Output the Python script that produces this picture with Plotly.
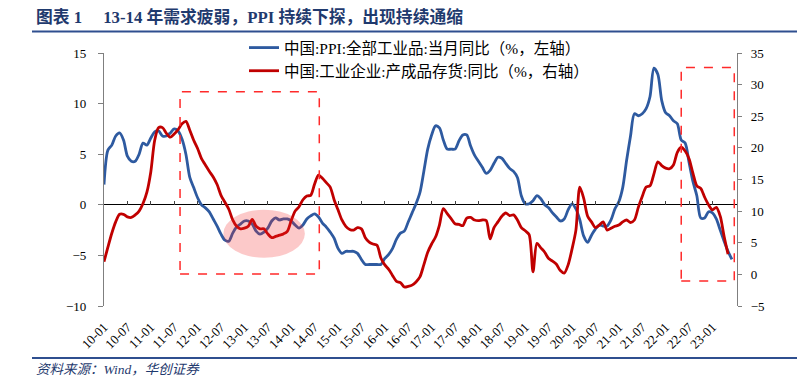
import plotly.graph_objects as go

# ---- data ----
months = [f"{y % 100:02d}-{m:02d}" for y in range(2010, 2024) for m in range(1, 13)][:162]
tick_labels = months[::6]

ppi_yoy = [
    2.0, 5.4, 5.9, 6.8, 7.1, 6.4, 4.8, 4.3, 4.3, 5.0, 6.1, 5.9,          # 2010
    6.6, 7.2, 7.3, 6.8, 6.8, 7.1, 7.5, 7.3, 6.5, 5.0, 2.7, 1.7,          # 2011
    0.7, 0.0, -0.3, -0.7, -1.4, -2.1, -2.9, -3.5, -3.6, -2.8, -2.2, -1.9,  # 2012
    -1.6, -1.6, -1.9, -2.6, -2.9, -2.7, -2.3, -1.6, -1.3, -1.5, -1.4, -1.4,  # 2013
    -1.6, -2.0, -2.3, -2.0, -1.4, -1.1, -0.9, -1.2, -1.8, -2.2, -2.7, -3.3,  # 2014
    -4.3, -4.8, -4.6, -4.6, -4.6, -4.8, -5.4, -5.9, -5.9, -5.9, -5.9, -5.9,  # 2015
    -5.3, -4.9, -4.3, -3.4, -2.8, -2.6, -1.7, -0.8, 0.1, 1.2, 3.3, 5.5,    # 2016
    6.9, 7.8, 7.6, 6.4, 5.5, 5.5, 5.5, 6.3, 6.9, 6.9, 5.8, 4.9,          # 2017
    4.3, 3.7, 3.1, 3.4, 4.1, 4.7, 4.6, 4.1, 3.6, 3.3, 2.7, 0.9,          # 2018
    0.1, 0.1, 0.4, 0.9, 0.6, 0.0, -0.3, -0.8, -1.2, -1.6, -1.4, -0.5,     # 2019
    0.1, -0.4, -1.5, -3.1, -3.7, -3.0, -2.4, -2.0, -2.1, -2.1, -1.5, -0.4,  # 2020
    0.3, 1.7, 4.4, 6.8, 9.0, 8.8, 9.0, 9.5, 10.7, 13.5, 12.9, 10.3,      # 2021
    9.1, 8.8, 8.3, 8.0, 6.4, 6.1, 4.2, 2.3, 0.9, -1.3, -1.3, -0.7,       # 2022
    -0.8, -1.4, -2.5, -3.6, -4.6, -5.4,                                # 2023
]

inventory_yoy = [
    2.0, 4.3, 6.5, 8.3, 9.5, 9.5, 9.1, 9.0, 9.4, 10.0, 11.2, 13.0,       # 2010
    16.2, 21.2, 23.2, 23.2, 22.3, 21.7, 22.2, 22.9, 23.8, 24.2, 22.8, 21.2,  # 2011
    19.9, 18.3, 17.3, 16.3, 15.4, 14.2, 12.5, 11.4, 10.3, 8.6, 7.6, 7.2,  # 2012
    7.3, 7.6, 8.7, 7.6, 7.2, 7.2, 6.4, 5.8, 6.0, 6.2, 6.4, 6.8,          # 2013
    8.5, 10.0, 10.7, 11.8, 12.4, 12.5, 14.3, 15.7, 15.2, 14.5, 13.8, 11.8,  # 2014
    10.2, 8.6, 7.6, 7.1, 7.0, 7.4, 7.2, 5.8, 5.1, 4.8, 4.6, 2.6,         # 2015
    1.5, 0.8, -0.2, -1.1, -1.3, -2.0, -1.9, -1.7, -1.2, -0.4, 1.5, 3.5,   # 2016
    4.8, 5.9, 7.8, 10.4, 9.6, 8.8, 8.0, 7.9, 7.7, 8.9, 9.0, 8.6,         # 2017
    8.5, 8.6, 8.5, 5.6, 7.4, 8.3, 9.2, 9.7, 9.3, 9.4, 8.6, 7.4,          # 2018
    6.9, 6.3, 0.4, 4.9, 4.2, 3.5, 2.5, 2.1, 1.6, 0.6, 0.2, 1.5,          # 2019
    4.0, 7.0, 13.8, 12.0, 9.2, 8.3, 7.4, 7.8, 8.3, 7.0, 7.3, 7.6,        # 2020
    7.8, 8.3, 8.6, 8.2, 8.6, 10.6, 12.3, 13.8, 14.0, 15.9, 17.8, 17.2,   # 2021
    16.8, 16.7, 17.3, 19.3, 20.1, 19.5, 18.3, 16.0, 14.0, 13.6, 12.2, 11.0,  # 2022
    10.2, 10.6, 9.2, 6.0, 3.2,                                          # 2023
]

name_ppi = "中国:PPI:全部工业品:当月同比（%，左轴）"
name_inv = "中国:工业企业:产成品存货:同比（%，右轴）"

# ---- layout geometry ----
W, H = 797, 377
ML, MR, MT, MB = 104, 60, 53, 71
PW, PH = W - ML - MR, H - MT - MB


def px_x(px):
    return (px - ML) / PW


def px_y(py):
    return (H - MB - py) / PH


SERIF = "Liberation Serif, 'Times New Roman', 'Noto Sans CJK SC', serif"
NAVY = "#1F3A6E"
BLUE = "#2E5AA0"
RED = "#C00000"

fig = go.Figure()
fig.add_trace(go.Scatter(
    x=months[:len(ppi_yoy)], y=ppi_yoy, name=name_ppi, mode="lines",
    line=dict(color=BLUE, width=2.8, shape="spline", smoothing=0.8),
    xaxis="x", yaxis="y",
))
fig.add_trace(go.Scatter(
    x=months[:len(inventory_yoy)], y=inventory_yoy, name=name_inv, mode="lines",
    line=dict(color=RED, width=2.8, shape="spline", smoothing=0.8),
    xaxis="x", yaxis="y2",
))
# invisible trace that carries the tick marks on the zero line
fig.add_trace(go.Scatter(
    x=list(range(len(ppi_yoy))), y=ppi_yoy, mode="lines", showlegend=False,
    hoverinfo="skip", opacity=0, line=dict(width=0), xaxis="x2", yaxis="y",
))

xr = [0, 162.3]
fig.update_layout(
    width=W, height=H,
    margin=dict(l=ML, r=MR, t=MT, b=MB, autoexpand=False),
    paper_bgcolor="white", plot_bgcolor="white",
    font=dict(family=SERIF, size=13, color="black"),
    showlegend=True,
    legend=dict(
        x=px_x(244), y=px_y(31), xanchor="left", yanchor="top",
        bgcolor="rgba(0,0,0,0)", font=dict(family=SERIF, size=15.5, color="black"),
        itemwidth=30, tracegroupgap=0, traceorder="normal",
    ),
    xaxis=dict(
        type="category", range=xr, tickmode="array", tickvals=tick_labels,
        ticktext=tick_labels, tickangle=-45, ticks="", showline=False,
        showgrid=False, zeroline=False, tickfont=dict(family=SERIF, size=13),
        ticklabelstandoff=10, automargin=False,
    ),
    xaxis2=dict(
        overlaying="x", anchor="free", position=0.4, range=xr,
        tickmode="array", tickvals=list(range(0, 162, 6)), ticks="inside",
        ticklen=4, tickcolor="#404040", tickwidth=1, showticklabels=False,
        showline=False, showgrid=False, zeroline=False, automargin=False,
    ),
    yaxis=dict(
        range=[-10, 15], dtick=5, showgrid=False, zeroline=True,
        zerolinecolor="black", zerolinewidth=1.2, showline=True,
        linecolor="#7F7F7F", linewidth=1.2, ticks="outside", ticklen=5,
        tickcolor="#7F7F7F", tickfont=dict(family=SERIF, size=13),
        ticklabelstandoff=9, automargin=False,
    ),
    yaxis2=dict(
        range=[-5, 35], dtick=5, overlaying="y", side="right", showgrid=False,
        zeroline=False, showline=True, linecolor="#7F7F7F", linewidth=1.2,
        ticks="outside", ticklen=4, tickcolor="#7F7F7F",
        tickfont=dict(family=SERIF, size=13), ticklabelstandoff=6, automargin=False,
    ),
)

dash_red = dict(color="#FF2A2A", width=1.5, dash="dash")
fig.add_shape(type="rect", xref="x", yref="y", x0=19.5, x1=55.2, y0=-6.85, y1=11.17,
              line=dash_red, layer="above")
fig.add_shape(type="rect", xref="x", yref="y", x0=148.0, x1=161.6, y0=-7.54, y1=13.57,
              line=dash_red, layer="above")
fig.add_shape(type="circle", xref="x", yref="y", x0=30.6, x1=51.5, y0=-5.24, y1=-0.49,
              fillcolor="rgba(245,40,40,0.25)", line=dict(width=0), layer="above")

# header / footer rules
for py in (31.5, 358):
    fig.add_shape(type="line", xref="paper", yref="paper", x0=px_x(32), x1=px_x(797),
                  y0=px_y(py), y1=px_y(py), line=dict(color="#2F4F8F", width=2))

fig.add_annotation(
    xref="paper", yref="paper", x=px_x(34), y=px_y(17.5), xanchor="left", yanchor="middle",
    text="<b>图表 1\u00a0\u00a0\u00a0\u00a0\u00a013-14 年需求疲弱，PPI 持续下探，出现持续通缩</b>",
    showarrow=False, font=dict(family=SERIF, size=16.8, color=NAVY),
)
fig.add_annotation(
    xref="paper", yref="paper", x=px_x(34), y=px_y(369), xanchor="left", yanchor="middle",
    text="<i>资料来源：Wind，华创证券</i>",
    showarrow=False, font=dict(family=SERIF, size=13.5, color=NAVY),
)

fig.write_html("out.html", config={"displayModeBar": False},
               post_script="document.body.style.margin='0';")
